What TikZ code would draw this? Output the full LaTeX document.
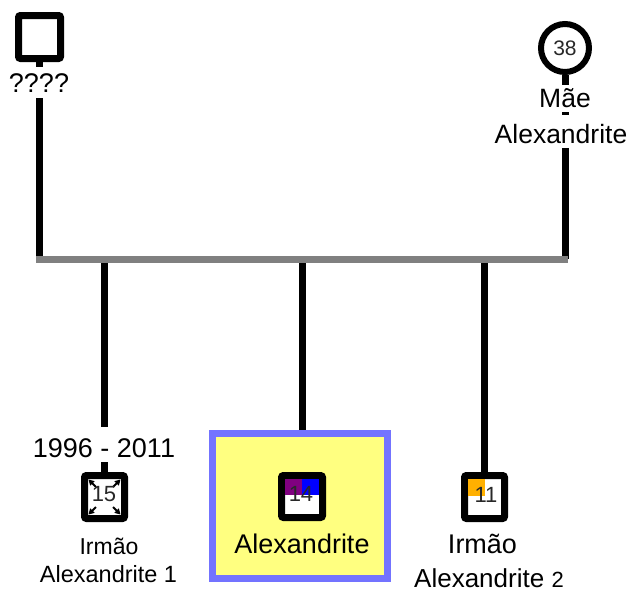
\documentclass[tikz,border=0pt]{standalone}
\usepackage{fontspec}
\setmainfont{Liberation Sans}
\usetikzlibrary{arrows.meta,calc}
\definecolor{barGray}{RGB}{128,128,128}
\definecolor{selYellow}{RGB}{255,255,128}
\definecolor{selBlue}{RGB}{115,115,255}
\definecolor{qPurple}{RGB}{128,0,128}
\definecolor{qBlue}{RGB}{0,0,255}
\definecolor{qOrange}{RGB}{255,176,0}
\definecolor{numGray}{RGB}{40,40,40}
\newcommand\fsz[1]{\fontsize{#1}{#1}\selectfont}
\begin{document}
\begin{tikzpicture}[x=1pt,y=-1pt,
  person/.style={draw=black,fill=white,line width=7pt,rounded corners=2pt,inner sep=0pt},
  personc/.style={draw=black,fill=white,line width=6pt,circle,inner sep=0pt},
  selbox/.style={draw=selBlue,fill=selYellow,line width=7pt,inner sep=0pt},
  kin/.style={line width=7pt,draw=black},
  sibbar/.style={line width=7pt,draw=barGray},
  lbl/.style={inner sep=0pt,anchor=base,font=\fsz{26.5}},
  cover/.style={fill=white,inner xsep=1pt,inner ysep=0pt},
  num/.style={inner sep=0pt,text=numGray,font=\fsz{22}},
  cornermark/.style={line width=1.8pt,-{Triangle[length=5.5pt,width=6pt]}},
]
\useasboundingbox (0,0) rectangle (633,592);
% people
\node[person,minimum width=42pt,minimum height=43pt] (father) at (39.5,37) {};
\node[personc,minimum size=48pt] (mother) at (565,48) {};
\node[person,minimum width=40pt,minimum height=43pt] (c1) at (104.5,497) {};
\node[selbox,minimum width=175pt,minimum height=145pt] (selfbox) at (300,506) {};
\node[person,minimum width=41pt,minimum height=42pt] (c2) at (302,496.5) {};
\node[person,minimum width=40pt,minimum height=43pt] (c3) at (484.5,497) {};
% icon details
\fill[qPurple] (285,479) rectangle (302,495);
\fill[qBlue] (302,479) rectangle (319,495);
\fill[qOrange] (468,479) rectangle (484.5,496);
\draw[cornermark] (96,487) -- (88.5,479.5);
\draw[cornermark] (113,487) -- (120.5,479.5);
\draw[cornermark] (96,507) -- (88.5,514.5);
\draw[cornermark] (113,507) -- (120.5,514.5);
% bar
\coordinate (barL) at (36,259);
\coordinate (barR) at (568,259);
% connectors
\draw[kin] (father.south) -- (father.south |- barL);
\draw[kin] (mother.south) -- (mother.south |- barL);
\draw[kin] (c1.north |- barL) -- (c1.north);
\draw[kin] (c2.north |- barL) -- (c2.north |- selfbox.north);
\draw[kin] (c3.north |- barL) -- (c3.north);
\draw[sibbar] (barL) -- (barR);
% numbers
\node[num,font=\fsz{21}] (n38) at (565,48) {38};
\node[num] (n15) at (104,494) {15};
\node[num] (n14) at (301,494) {14};
\node[num] (n11) at (486,495) {11};
% labels
\node[lbl,cover,font=\fsz{27},text height=25pt,text depth=6pt] (tq) at (39,92) {????};
\node[lbl,cover,text height=22pt,text depth=5pt] (tmae) at (565,107) {Mãe};
\node[lbl,cover,text height=28pt,text depth=5pt] (tmae2) at (561,143) {Alexandrite};
\node[lbl,cover,font=\fsz{27},text height=30pt,text depth=5pt] (tdates) at (104,457) {1996 - 2011};
\node[lbl,font=\fsz{23}] (t1a) at (109,554) {Irmão};
\node[lbl,font=\fsz{23.5}] (t1b) at (108.5,582) {Alexandrite 1};
\node[lbl,font=\fsz{27}] (tself) at (302,553) {Alexandrite};
\node[lbl,font=\fsz{27}] (t3a) at (482.5,553) {Irmão};
\node[lbl,anchor=base west,font=\fsz{26}] (t3b) at (414,587) {Alexandrite~{\fsz{22}2}};
\end{tikzpicture}
\end{document}
